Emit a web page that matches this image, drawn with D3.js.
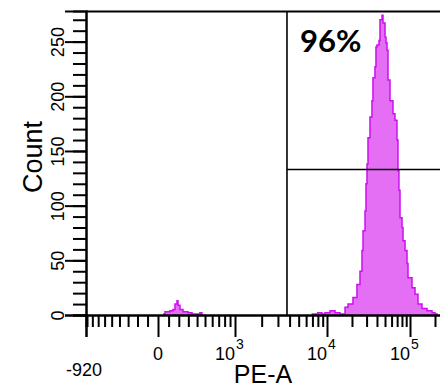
<!DOCTYPE html>
<html>
<head>
<meta charset="utf-8">
<script src="https://cdn.jsdelivr.net/npm/d3@7"></script>
<style>
  body { margin: 0; background: #fff; }
  svg { display: block; }
  text { font-family: "Liberation Sans", Arial, sans-serif; fill: #000; }
</style>
</head>
<body>
<div id="chart"></div>
<script>
//histogram values (PE-A channel value, count)
var bumpPE    = [47, 66, 113, 142, 162, 182, 192, 212, 243, 297, 341, 411, 434, 460];
var bumpCount = [1, 3, 4, 5, 10, 13, 9, 5, 3, 2, 1, 1, 2, 0];

var peakPE = [6870, 7980, 8830, 9510, 10870, 12490, 14350, 16490, 17920, 20560, 22960,
              24980, 26400, 27170, 28720, 29510, 30340, 31190, 32960, 34830, 35800, 37840,
              38900, 39990, 42330, 43500, 46010, 47300, 50000, 51400, 52850, 54330, 57420,
              62370, 65920, 69680, 71630, 73570, 75800, 80130, 82370, 87100, 92050, 94630,
              105700, 114900, 124800, 139500, 160300, 184200, 200000, 211300];
var peakCount = [1, 2, 1, 2, 4, 2, 1, 7, 10, 16, 28,
                 40, 59, 77, 95, 120, 138, 162, 181, 196, 217, 227,
                 245, 247, 251, 270, 274, 267, 254, 249, 242, 215, 196,
                 184, 178, 160, 132, 114, 89, 80, 68, 59, 47, 34,
                 25, 19, 10, 6, 4, 2, 1, 0];

//gates
var gatePE = 3750;
var gateCount = 133;
var gateLabel = "96%";

//axis ticks
var yMajor = [0, 50, 100, 150, 200, 250];
var yMinor = d3.range(0, 280, 10);
var xMajor = [-920, 0, 1000, 10000, 100000];
var xMinor = [-900, -800, -700, -600, -500, -400, -300, -200, -100,
              100, 200, 300, 400, 500, 600, 700, 800, 900,
              2000, 3000, 4000, 5000, 6000, 7000, 8000, 9000,
              20000, 30000, 40000, 50000, 60000, 70000, 80000, 90000, 200000];
var xDecades = [{v: 1000, e: "3"}, {v: 10000, e: "4"}, {v: 100000, e: "5"}];

var width = 440, height = 387;
var margin = {top: 11, left: 86, bottom: 72};
var plotRight = 445;
var yBottom = height - margin.bottom;

var svg = d3.select("#chart").append("svg")
    .attr("width", width)
    .attr("height", height);

//biexponential-like display: asinh transform, anchored at the decades
var tf = function(v) { return Math.asinh(v / 500); };
var xLin = d3.scaleLinear()
    .domain([-920, 0, 1000, 10000, 100000].map(tf))
    .range([86, 158, 235, 327, 410]);
var x = function(v) { return xLin(tf(v)); };
x.copy = function() { return x; };
x.range = function() { return [margin.left, plotRight]; };
x.domain = function() { return [-920, 262144]; };

var y = d3.scaleLinear().domain([0, 278]).range([yBottom, margin.top]);

var magenta = "#cc11ee", magentaFill = "#e46ef4";

//histogram
var area = d3.area()
    .x(function(d) { return x(d[0]); })
    .y0(y(0))
    .y1(function(d) { return y(d[1]); })
    .curve(d3.curveStepAfter);
var line = d3.line()
    .x(function(d) { return x(d[0]); })
    .y(function(d) { return y(d[1]); })
    .curve(d3.curveStepAfter);

[d3.zip(bumpPE, bumpCount), d3.zip(peakPE, peakCount)].forEach(function(pts) {
    svg.append("path")
        .attr("d", area(pts))
        .attr("fill", magentaFill);
    svg.append("path")
        .attr("d", line(pts))
        .attr("fill", "none")
        .attr("stroke", magenta)
        .attr("stroke-width", 1.5);
});

//frame top
svg.append("line")
    .attr("x1", margin.left).attr("x2", plotRight)
    .attr("y1", margin.top + 0.5).attr("y2", margin.top + 0.5)
    .attr("stroke", "#000").attr("stroke-width", 2);

//gates
svg.append("line")
    .attr("x1", x(gatePE)).attr("x2", x(gatePE))
    .attr("y1", margin.top).attr("y2", yBottom)
    .attr("stroke", "#000").attr("stroke-width", 1.6);
svg.append("line")
    .attr("x1", x(gatePE)).attr("x2", plotRight)
    .attr("y1", y(gateCount)).attr("y2", y(gateCount))
    .attr("stroke", "#000").attr("stroke-width", 1.6);

svg.append("text")
    .attr("x", x(gatePE) + 13)
    .attr("y", 52)
    .style("font-family", "Lato, 'Open Sans', sans-serif")
    .style("font-weight", "bold")
    .style("font-size", "31px")
    .text(gateLabel);

//y axis
var yMinorAxis = svg.append("g")
    .attr("transform", "translate(" + margin.left + ",0)")
    .call(d3.axisLeft(y).tickValues(yMinor).tickSize(13).tickFormat(""));
var yMajorAxis = svg.append("g")
    .attr("transform", "translate(" + margin.left + ",0)")
    .call(d3.axisLeft(y).tickValues(yMajor).tickSize(21).tickFormat(d3.format("d")));
yMajorAxis.selectAll("text")
    .attr("x", null).attr("dy", null)
    .attr("text-anchor", "middle")
    .attr("transform", "translate(-22,0) rotate(-90)")
    .style("font-size", "18px");

//x axis
var xMinorAxis = svg.append("g")
    .attr("transform", "translate(0," + yBottom + ")")
    .call(d3.axisBottom(x).tickValues(xMinor).tickSize(12).tickFormat(""));
var xMajorAxis = svg.append("g")
    .attr("transform", "translate(0," + yBottom + ")")
    .call(d3.axisBottom(x).tickValues(xMajor).tickSize(22).tickFormat(""));

svg.selectAll(".domain, .tick line").attr("stroke", "#000").attr("stroke-width", 2);

//x tick labels
svg.append("text")
    .attr("x", x(-920) - 2).attr("y", 376)
    .attr("text-anchor", "middle")
    .style("font-size", "18px")
    .text("-920");
svg.append("text")
    .attr("x", x(0)).attr("y", 360)
    .attr("text-anchor", "middle")
    .style("font-size", "18px")
    .text("0");
xDecades.forEach(function(d) {
    svg.append("text")
        .attr("x", x(d.v)).attr("y", 360)
        .attr("text-anchor", "end")
        .style("font-size", "18px")
        .text("10");
    svg.append("text")
        .attr("x", x(d.v) + 1).attr("y", 349)
        .style("font-size", "14px")
        .text(d.e);
});

//axis titles
svg.append("text")
    .attr("x", 263).attr("y", 383)
    .attr("text-anchor", "middle")
    .style("font-size", "25px")
    .text("PE-A");
svg.append("text")
    .attr("transform", "translate(42,157) rotate(-90)")
    .attr("text-anchor", "middle")
    .style("font-size", "27px")
    .text("Count");
</script>
</body>
</html>
